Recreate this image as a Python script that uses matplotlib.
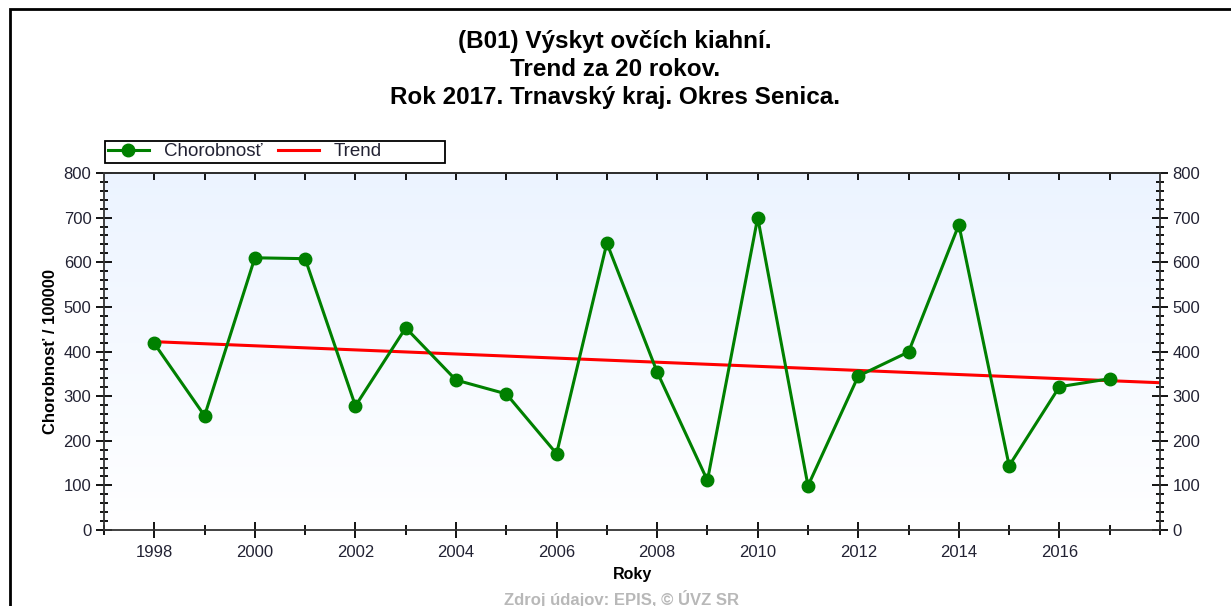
import numpy as np
import matplotlib
matplotlib.use("Agg")
import matplotlib.pyplot as plt
from matplotlib.patches import Rectangle
from matplotlib.ticker import MultipleLocator, FixedLocator

plt.rcParams['font.family'] = ['Liberation Sans', 'DejaVu Sans']

# data
years = [1998, 1999, 2000, 2001, 2002, 2003, 2004, 2005, 2006, 2007,
         2008, 2009, 2010, 2011, 2012, 2013, 2014, 2015, 2016, 2017]
chorobnost = [418, 256, 610, 608, 278, 453, 336, 305, 171, 643,
              354, 111, 700, 99, 345, 399, 684, 144, 321, 339]
trend_years = [1998, 2018]
trend_values = [422, 330]
x_labels = [1998, 2000, 2002, 2004, 2006, 2008, 2010, 2012, 2014, 2016]

title = "(B01) Výskyt ovčích kiahní.\nTrend za 20 rokov.\nRok 2017. Trnavský kraj. Okres Senica."

fig = plt.figure(figsize=(12.31, 6.06), dpi=100)
W, H = 1231, 606

# outer frame (only top and left visible in the crop)
fig.patches.append(Rectangle((9.5 / W, -0.1), 1.2, 1.1 - 8.5 / H, transform=fig.transFigure,
                             fill=False, edgecolor='black', linewidth=2, zorder=0))

ax = fig.add_axes([104 / W, 1 - 530 / H, (1160 - 104) / W, (530 - 173) / H])

# soft blue gradient background
grad = np.linspace(1, 0, 256).reshape(-1, 1)
top = np.array([0.925, 0.955, 1.0])
bot = np.array([1.0, 1.0, 1.0])
img = bot + (top - bot) * grad[..., None]
ax.imshow(img, extent=[0, 1, 0, 1], transform=ax.transAxes, aspect='auto', zorder=0)

tr, = ax.plot(trend_years, trend_values, color='#ff0000', linewidth=2.2, label='Trend', zorder=2)
ln, = ax.plot(years, chorobnost, color='#008000', linewidth=2.2, marker='o',
              markersize=9, label='Chorobnosť', zorder=3)

ax.set_xlim(1997, 2018)
ax.set_ylim(0, 800)

ax.xaxis.set_major_locator(FixedLocator(x_labels))
ax.xaxis.set_minor_locator(MultipleLocator(1))
ax.yaxis.set_major_locator(MultipleLocator(100))
ax.yaxis.set_minor_locator(MultipleLocator(20))

ax.tick_params(axis='y', which='major', direction='inout', length=12, width=1.3,
               left=True, right=True, labelleft=True, labelright=True,
               labelsize=12, labelcolor='#222233', pad=3)
ax.tick_params(axis='y', which='minor', direction='inout', length=6, width=1.3,
               left=True, right=True)
ax.tick_params(axis='x', which='major', direction='inout', length=12, width=1.3,
               labelsize=12, labelcolor='#222233', pad=5)
ax.tick_params(axis='x', which='minor', direction='inout', length=7, width=1.3)

for s in ax.spines.values():
    s.set_linewidth(1.3)
    s.set_color('#333333')

# top axis: small inward ticks at every year
sec = ax.secondary_xaxis('top')
sec.set_xticks(years)
sec.tick_params(direction='in', length=5, width=1.3, labeltop=False)
sec.spines['top'].set_linewidth(1.3)

ax.set_xlabel('Roky', fontsize=11.5, fontweight='bold', labelpad=5)
ax.set_ylabel('Chorobnosť / 100000', fontsize=12, fontweight='bold', labelpad=4)

# legend sits above the plot with a wider frame than its entries
leg = ax.legend(handles=[ln, tr], loc='center left', ncol=2,
                bbox_to_anchor=(0.0, 1.059), fontsize=13.5,
                frameon=False, handlelength=2.2, handletextpad=0.8,
                columnspacing=0.8, borderaxespad=0, borderpad=0.2)
for t in leg.get_texts():
    t.set_color('#222233')
ax.add_patch(Rectangle((1.0 / 1056, (530 - 163) / 357), (445 - 105) / 1056, 22 / 357,
                       transform=ax.transAxes, fill=False, edgecolor='black',
                       linewidth=1.3, clip_on=False, zorder=5))

fig.text(615 / W, 1 - 30 / H, title, ha='center', va='top', fontsize=17.5,
         fontweight='bold', linespacing=1.27)

fig.text(622 / W, 1 - 599 / H, 'Zdroj údajov: EPIS, © ÚVZ SR', ha='center', va='center',
         fontsize=12, fontweight='bold', color='#b8b8b8')

fig.savefig('out.png', dpi=100)
